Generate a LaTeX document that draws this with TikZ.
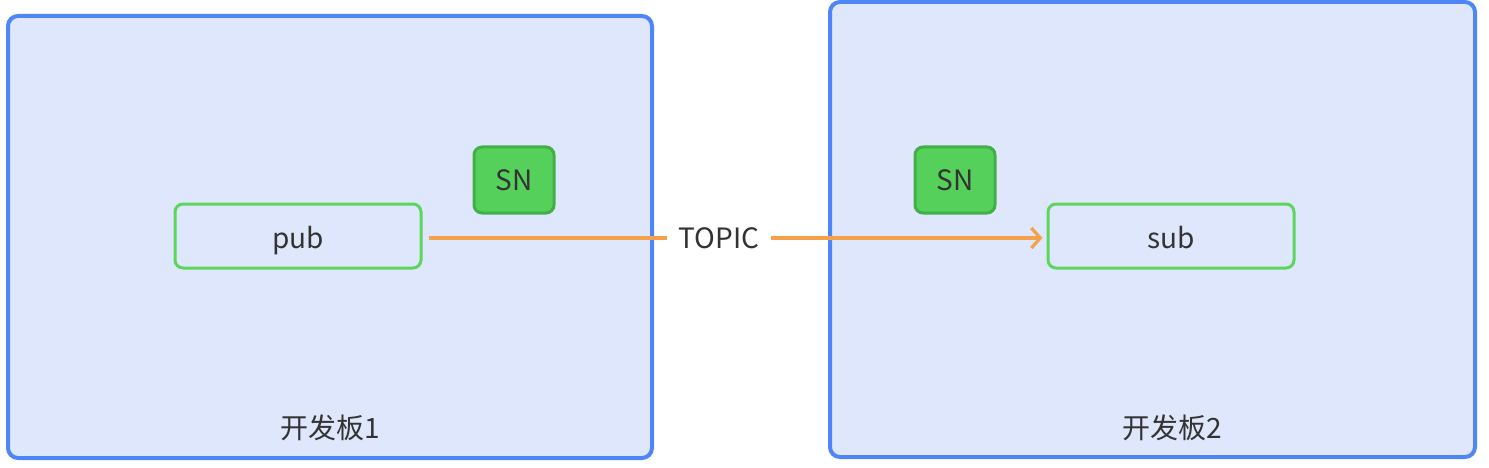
\documentclass[tikz,border=0pt]{standalone}
\usepackage{fontspec}
\setmainfont{Noto Sans CJK SC}
\usetikzlibrary{arrows.meta}
\definecolor{boardfill}{HTML}{DEE7FB}
\definecolor{boardline}{HTML}{4F86F7}
\definecolor{gline}{HTML}{5CD65C}
\definecolor{snfill}{HTML}{55D05A}
\definecolor{snline}{HTML}{44AE48}
\definecolor{arrowc}{HTML}{F5A04A}
\definecolor{txt}{HTML}{333333}
\tikzset{
  board/.style={draw=boardline, fill=boardfill, line width=4pt, rounded corners=10pt},
  proc/.style={draw=gline, fill=boardfill, line width=3pt, rounded corners=8pt, minimum width=246pt, minimum height=64pt, inner sep=0pt, text=txt, font=\fontsize{28}{32}\selectfont},
  snbox/.style={draw=snline, fill=snfill, line width=3pt, rounded corners=8pt, minimum width=80pt, minimum height=66pt, inner sep=0pt, text=txt, font=\fontsize{28}{32}\selectfont},
  lbl/.style={text=txt, font=\fontsize{28}{32}\selectfont, inner sep=0pt},
  flow/.style={draw=arrowc, line width=3.2pt}
}
\begin{document}
\begin{tikzpicture}[x=1pt, y=-1pt]
\useasboundingbox (0,0) rectangle (1489,468);
\fill[white] (0,0) rectangle (1489,468);
\draw[board] (8,16) rectangle (652,458);
\draw[board] (830,2) rectangle (1475,457);
\node[proc, text depth=0pt] (pub) at (298,236) {\raisebox{-3pt}{pub}};
\node[proc, text depth=0pt] (sub) at (1171,236) {\raisebox{-3pt}{sub}};
\node[snbox] (sn1) at (514,180) {SN};
\node[snbox] (sn2) at (955,180) {SN};
\node[lbl] (b1) at (330,428) {开发板1};
\node[lbl] (b2) at (1172,428) {开发板2};
\node[lbl, minimum width=104pt, minimum height=30pt] (topic) at (719,238) {TOPIC};
\draw[flow] ([xshift=6pt]pub.east |- topic.west) -- (topic.west);
\draw[flow, -{Straight Barb[length=9pt, width=20pt]}] (topic.east) -- ([xshift=-4pt]sub.west |- topic.east);
\end{tikzpicture}
\end{document}
